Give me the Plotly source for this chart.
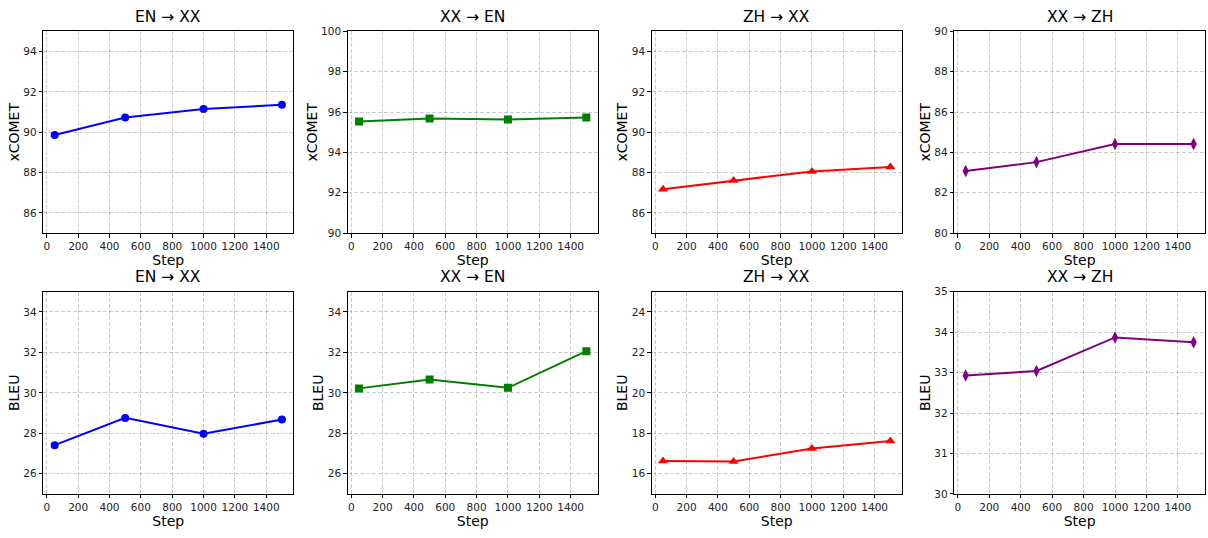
import plotly.graph_objects as go

steps = [50, 500, 1000, 1500]

titles = ["EN \u2192 XX", "XX \u2192 EN", "ZH \u2192 XX", "XX \u2192 ZH"]

xcomet_en_xx = [89.86, 90.73, 91.15, 91.36]
xcomet_xx_en = [95.53, 95.68, 95.63, 95.73]
xcomet_zh_xx = [87.18, 87.61, 88.06, 88.28]
xcomet_xx_zh = [83.08, 83.52, 84.42, 84.42]

bleu_en_xx = [27.41, 28.76, 27.97, 28.68]
bleu_xx_en = [30.22, 30.66, 30.25, 32.06]
bleu_zh_xx = [16.63, 16.60, 17.24, 17.61]
bleu_xx_zh = [32.93, 33.04, 33.87, 33.75]

xcomet_ranges = [(85, 95), (90, 100), (85, 95), (80, 90)]
bleu_ranges = [(25, 35), (25, 35), (15, 25), (30, 35)]

colors = ["blue", "green", "red", "purple"]
symbols = ["circle", "square", "triangle-up", "diamond-tall"]
marker_sizes = [8, 8, 9, 9]

W, H = 1208, 538
col_px = [(43.3, 293.3), (347.7, 597.7), (651.7, 901.7), (954.3, 1205.0)]
row_px = [(26.0, 232.3), (292.3, 499.0)]

rows = [
    ("xCOMET", [xcomet_en_xx, xcomet_xx_en, xcomet_zh_xx, xcomet_xx_zh], xcomet_ranges),
    ("BLEU", [bleu_en_xx, bleu_xx_en, bleu_zh_xx, bleu_xx_zh], bleu_ranges),
]

fig = go.Figure()
layout = {}
annotations = []
font_family = "DejaVu Sans"
grid_color = "rgba(0,0,0,0.2)"

idx = 0
for r, (metric, series, ranges) in enumerate(rows):
    for c in range(4):
        idx += 1
        xname = "xaxis" if idx == 1 else f"xaxis{idx}"
        yname = "yaxis" if idx == 1 else f"yaxis{idx}"
        xref = "x" if idx == 1 else f"x{idx}"
        yref = "y" if idx == 1 else f"y{idx}"
        x0, x1 = col_px[c]
        y0, y1 = row_px[r]
        fig.add_trace(go.Scatter(
            x=steps, y=series[c], mode="lines+markers",
            line=dict(color=colors[c], width=2),
            marker=dict(symbol=symbols[c], size=marker_sizes[c], color=colors[c]),
            xaxis=xref, yaxis=yref, showlegend=False,
        ))
        lo, hi = ranges[c]
        dtick = 1 if (hi - lo) <= 5 else 2
        layout[xname] = dict(
            domain=[x0 / W, x1 / W], anchor=yref,
            range=[-22.5, 1572.5], tick0=0, dtick=200,
            showline=True, linecolor="black", linewidth=1, mirror=True,
            ticks="outside", ticklen=3.5, tickcolor="black", tickwidth=1,
            showgrid=True, gridcolor=grid_color, griddash="4px,2px", gridwidth=0.8,
            zeroline=False, tickfont=dict(size=10.5, color="#222", family=font_family),
            title=dict(text="Step", font=dict(size=14, color="black", family=font_family), standoff=1),
        )
        layout[yname] = dict(
            domain=[1 - y1 / H, 1 - y0 / H], anchor=xref,
            range=[lo, hi], dtick=dtick, tick0=0,
            showline=True, linecolor="black", linewidth=1, mirror=True,
            ticks="outside", ticklen=3.5, tickcolor="black", tickwidth=1,
            showgrid=True, gridcolor=grid_color, griddash="4px,2px", gridwidth=0.8,
            zeroline=False, tickfont=dict(size=10.5, color="#222", family=font_family),
            title=dict(text=metric, font=dict(size=14, color="black", family=font_family), standoff=0),
        )
        annotations.append(dict(
            text=titles[c], x=(x0 + x1) / 2 / W, y=1 - (y0 - 4) / H,
            xref="paper", yref="paper", xanchor="center", yanchor="bottom",
            showarrow=False, font=dict(size=15.5, color="black", family=font_family),
        ))

fig.update_layout(
    width=W, height=H,
    margin=dict(l=0, r=0, t=0, b=0),
    paper_bgcolor="white", plot_bgcolor="white",
    annotations=annotations,
    font=dict(family=font_family),
    **layout,
)

fig.write_html(
    "out.html",
    config={"displayModeBar": False},
    post_script="document.body.style.margin='0';document.body.style.overflow='hidden';",
)
